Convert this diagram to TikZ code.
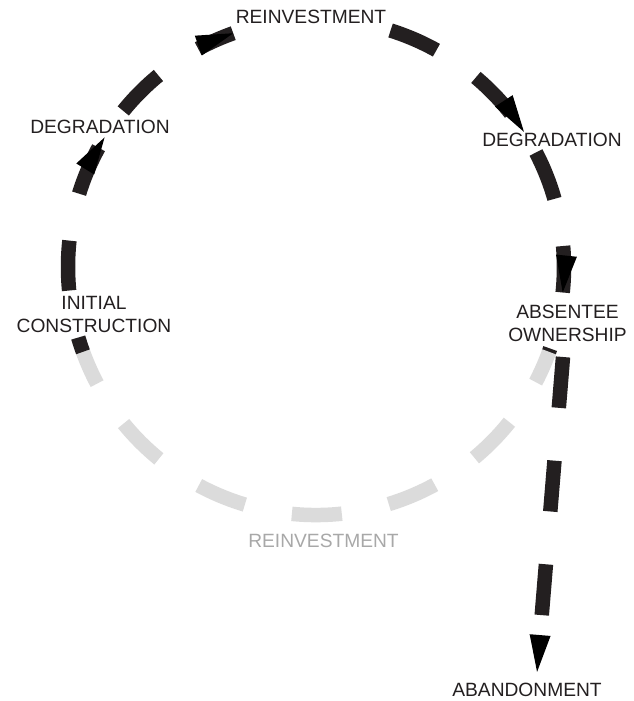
\documentclass[tikz,border=0pt]{standalone}
\usepackage{fontspec}
\setmainfont{Liberation Sans}
\usetikzlibrary{decorations.markings}
\definecolor{ink}{RGB}{35,31,32}
\definecolor{lgray}{RGB}{219,219,219}
\definecolor{tgray}{RGB}{168,168,168}
\begin{document}
\begin{tikzpicture}[x=1pt,y=1pt,
  lbl/.style={font=\fontsize{19.2}{23}\selectfont, text=ink, inner sep=0pt, align=center},
  ring/.style={line width=14.5pt, dash pattern=on 50pt off 48pt},
  blk/.style={ring, draw=ink},
  tipback/.style={postaction={decorate}, decoration={markings,
     mark=at position 1 with {\fill[black,draw=none] (0pt,0pt) -- (-37pt,10.5pt) -- (-37pt,-10.5pt) -- cycle;}}},
  tipfwd/.style={postaction={decorate}, decoration={markings,
     mark=at position 1 with {\fill[black,draw=none] (37pt,0pt) -- (0pt,10.5pt) -- (0pt,-10.5pt) -- cycle;}}},
]
\useasboundingbox (0,0) rectangle (634,701);
\coordinate (c) at (316,434);

% labels
\node[lbl, anchor=base] (reinvTop) at (311,677) {REINVESTMENT};
\node[lbl, anchor=base] (degL) at (100,567) {DEGRADATION};
\node[lbl, anchor=base] (degR) at (552,554) {DEGRADATION};
\node[lbl] (init) at (94,386.5) {INITIAL\\CONSTRUCTION};
\node[lbl] (absent) at (567.5,377.7) {ABSENTEE\\OWNERSHIP};
\node[lbl, anchor=base, text=tgray] (reinvBot) at (323.5,153) {REINVESTMENT};
\node[lbl, anchor=base] (aband) at (527,4.5) {ABANDONMENT};

% small dark sliver under the grey ring end
\draw[line width=14.5pt, draw=ink] ([shift={(339.8:248pt)}]c) arc[start angle=339.8, end angle=340.8, radius=248pt];

% grey lower half of the ring
\draw[ring, draw=lgray] ([shift={(196.5:248pt)}]c) arc[start angle=196.5, end angle=340, radius=248pt];

% black arcs
\draw[blk, dash phase=35pt, tipback] ([shift={(200:248pt)}]c) arc[start angle=200, end angle=148.5, radius=248pt];
\draw[blk, tipback] ([shift={(141:248pt)}]c) arc[start angle=141, end angle=109.5, radius=248pt];
\draw[blk, tipback] ([shift={(72.5:248pt)}]c) arc[start angle=72.5, end angle=33, radius=248pt];
\draw[blk, tipback] ([shift={(27.5:248pt)}]c) arc[start angle=27.5, end angle=-5.9, radius=248pt];

% straight dashed arrow to abandonment
\coordinate (e1) at (563,344);
\coordinate (e2) at (540.1,65.9);
\draw[line width=14.5pt, draw=ink, dash pattern=on 51pt off 53pt, tipfwd] (e1) -- (e2);
\end{tikzpicture}
\end{document}
